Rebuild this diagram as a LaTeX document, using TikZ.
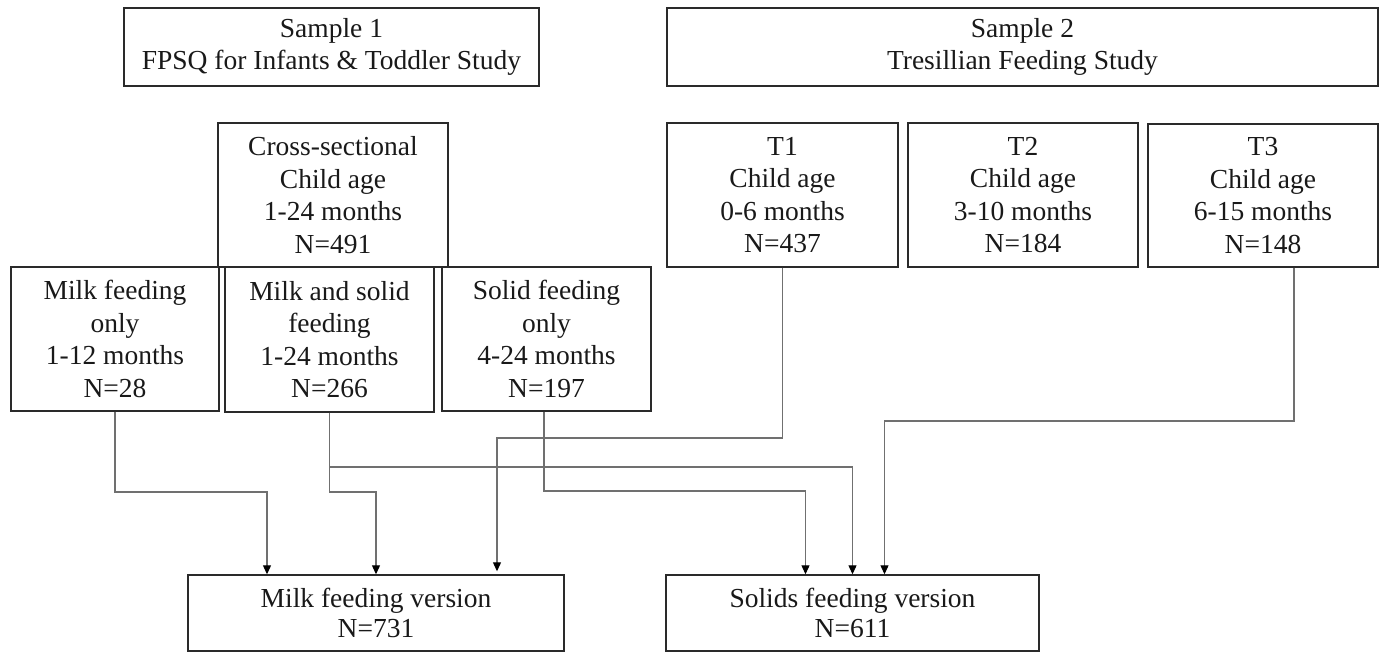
\documentclass[tikz,border=0pt]{standalone}
\usepackage{fontspec}
\setmainfont{Liberation Serif}
\usetikzlibrary{arrows.meta}
\definecolor{boxline}{HTML}{2A2A2A}
\definecolor{connline}{HTML}{707070}
\tikzset{
  box/.style={draw=boxline, line width=1.4pt, rectangle, inner sep=0pt, align=center,
    font=\fontsize{27.5}{32.5}\selectfont, text=black!90},
  lowbox/.style={box, font=\fontsize{27.5}{30}\selectfont},
  arr/.style={draw=connline, line width=1.1pt, -{Triangle[length=9pt,width=8pt,color=black]}},
  conn/.style={draw=connline, line width=1.1pt}
}
\begin{document}
\begin{tikzpicture}[x=1pt,y=-1pt]
\useasboundingbox (0,0) rectangle (1382,652);
% top headers
\node[box, minimum width=415pt, minimum height=78pt] (s1) at (331.5,47) {Sample 1\\FPSQ for Infants \& Toddler Study};
\node[box, minimum width=711pt, minimum height=78pt] (s2) at (1022.5,47) {Sample 2\\Tresillian Feeding Study};
% second row
\node[box, minimum width=230pt, minimum height=144pt] (cs) at (333,195) {Cross-sectional\\Child age\\1-24 months\\N=491};
\node[box, minimum width=231pt, minimum height=144pt] (t1) at (782.5,195) {T1\\Child age\\0-6 months\\N=437};
\node[box, minimum width=230pt, minimum height=144pt] (t2) at (1023,195) {T2\\Child age\\3-10 months\\N=184};
\node[box, minimum width=230pt, minimum height=143pt] (t3) at (1263,195.5) {T3\\Child age\\6-15 months\\N=148};
% third row
\node[box, minimum width=208pt, minimum height=144pt] (mo) at (115,339) {Milk feeding\\only\\1-12 months\\N=28};
\node[box, minimum width=209pt, minimum height=145pt] (ms) at (329.5,339.5) {Milk and solid\\feeding\\1-24 months\\N=266};
\node[box, minimum width=209pt, minimum height=144pt] (so) at (546.5,339) {Solid feeding\\only\\4-24 months\\N=197};
% bottom
\node[lowbox, minimum width=376pt, minimum height=76pt] (mv) at (376,613) {Milk feeding version\\N=731};
\node[lowbox, minimum width=373pt, minimum height=76pt] (sv) at (852.5,613) {Solids feeding version\\N=611};
% connectors
\draw[arr] (mo.south) -- (mo.south |- 0,492) -| ([xshift=-109pt]mv.north);
\draw[arr] (ms.south) -- (ms.south |- 0,492) -| (mv.north);
\draw[arr] (ms.south |- 0,467) -| (sv.north);
\draw[arr] ([xshift=-2.5pt]so.south) -- ([xshift=-2.5pt]so.south |- 0,491) -| ([xshift=-47pt]sv.north);
\draw[arr, shorten >=3pt] (t1.south) -- (t1.south |- 0,438) -| ([xshift=121pt]mv.north);
\draw[arr] ([xshift=31pt]t3.south) -- ([xshift=31pt]t3.south |- 0,421) -| ([xshift=32pt]sv.north);
\end{tikzpicture}
\end{document}
